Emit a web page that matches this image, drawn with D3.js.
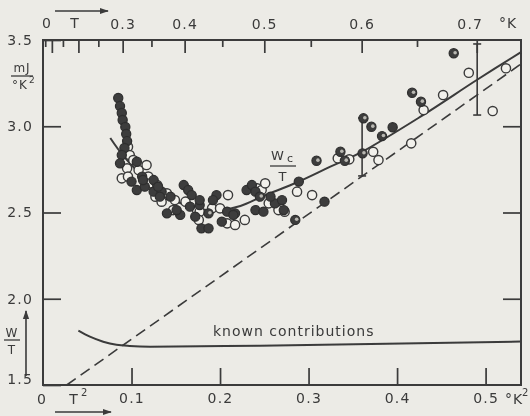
<!DOCTYPE html>
<html>
<head>
<meta charset="utf-8">
<script src="https://cdn.jsdelivr.net/npm/d3@7"></script>
<style>
  body { margin: 0; background: #ecebe6; }
  svg text { font-family: "DejaVu Sans", sans-serif; fill: #3a3a3a; }
</style>
</head>
<body>
<div id="chart"></div>
<script>
// tick values
const t2Ticks = [0.1, 0.2, 0.3, 0.4, 0.5];
const tMajor = [0.1, 0.2, 0.3, 0.4, 0.5, 0.6, 0.7];
const tMinor = [0.05, 0.15, 0.25, 0.35, 0.45, 0.55, 0.65];
const wTicks = [1.5, 2.0, 2.5, 3.0, 3.5];
const wRight = [2.0, 2.5, 3.0];

// measured points [T^2, W/T]
const filledPts = [
  [0.085, 3.164], [0.087, 3.117], [0.089, 3.077], [0.090, 3.036], [0.093, 2.996], [0.094, 2.955], [0.095, 2.914],
  [0.092, 2.874], [0.089, 2.833], [0.106, 2.794], [0.087, 2.785], [0.100, 2.679], [0.112, 2.708], [0.106, 2.630],
  [0.115, 2.650], [0.125, 2.621], [0.134, 2.621], [0.132, 2.592], [0.144, 2.592], [0.159, 2.659], [0.164, 2.630],
  [0.168, 2.601], [0.140, 2.495], [0.155, 2.486], [0.172, 2.476], [0.125, 2.688], [0.130, 2.650], [0.196, 2.601],
  [0.151, 2.514], [0.166, 2.534], [0.179, 2.408], [0.187, 2.408], [0.208, 2.505], [0.202, 2.447], [0.217, 2.495],
  [0.230, 2.630], [0.236, 2.659], [0.240, 2.514], [0.177, 2.543], [0.192, 2.572], [0.240, 2.621], [0.249, 2.505],
  [0.262, 2.553], [0.270, 2.572], [0.257, 2.592], [0.289, 2.679], [0.272, 2.514], [0.215, 2.486], [0.318, 2.563],
  [0.395, 2.994], [0.113, 2.688], [0.177, 2.572]
];
const openPts = [
  [0.096, 2.881], [0.098, 2.833], [0.102, 2.804], [0.095, 2.756], [0.089, 2.698], [0.096, 2.708], [0.108, 2.746],
  [0.117, 2.775], [0.119, 2.708], [0.121, 2.669], [0.129, 2.659], [0.138, 2.601], [0.149, 2.572], [0.161, 2.563],
  [0.147, 2.514], [0.174, 2.514], [0.127, 2.592], [0.134, 2.563], [0.177, 2.505], [0.176, 2.457], [0.191, 2.524],
  [0.200, 2.524], [0.208, 2.437], [0.217, 2.428], [0.228, 2.457], [0.242, 2.640], [0.209, 2.601], [0.247, 2.630],
  [0.251, 2.669], [0.255, 2.553], [0.266, 2.514], [0.273, 2.505], [0.287, 2.621], [0.304, 2.601], [0.333, 2.814],
  [0.346, 2.808], [0.373, 2.852], [0.379, 2.804], [0.416, 2.901], [0.430, 3.094], [0.452, 3.181], [0.481, 3.310],
  [0.523, 3.336], [0.508, 3.088], [0.140, 2.611]
];
const halfPts = [
  [0.187, 2.495], [0.245, 2.592], [0.285, 2.457], [0.309, 2.800], [0.336, 2.852], [0.341, 2.800], [0.361, 2.843],
  [0.362, 3.046], [0.371, 2.997], [0.383, 2.943], [0.417, 3.194], [0.427, 3.142], [0.464, 3.423]
];
// [T^2, low, high]
const errorBars = [[0.3605, 2.712, 3.048], [0.4905, 3.065, 3.477]];

// W_c/T fitted curve
const wcCurve = [
  [0.076, 2.932], [0.090, 2.833], [0.110, 2.723], [0.132, 2.625], [0.155, 2.555], [0.177, 2.520], [0.200, 2.514],
  [0.223, 2.538], [0.249, 2.596], [0.288, 2.677], [0.324, 2.764], [0.358, 2.845], [0.426, 3.054], [0.490, 3.268],
  [0.540, 3.430]
];
const knownCurve = [
  [0.040, 1.815], [0.053, 1.780], [0.068, 1.751], [0.083, 1.733], [0.098, 1.726], [0.121, 1.722], [0.245, 1.728],
  [0.540, 1.752]
];
const dashedLine = [[0.0268, 1.5], [0.540, 3.361]];

const W = 530, H = 416;
const ink = "#3a3a3a";
const pLeft = 43, pRight = 521, pTop = 40, pBottom = 385;

const svg = d3.select("#chart").append("svg")
  .attr("width", W).attr("height", H)
  .style("background", "#ecebe6");

const defs = svg.append("defs");
defs.append("filter").attr("id", "scan")
  .append("feGaussianBlur").attr("stdDeviation", 0.35);
defs.append("marker").attr("id", "arr")
  .attr("viewBox", "0 0 10 10").attr("refX", 9).attr("refY", 5)
  .attr("markerWidth", 9).attr("markerHeight", 9).attr("markerUnits", "userSpaceOnUse").attr("orient", "auto")
  .append("path").attr("d", "M0,1.5 L10,5 L0,8.5 Z").attr("fill", ink);

const g = svg.append("g").attr("filter", "url(#scan)");

const x = d3.scaleLinear().domain([0, 0.54]).range([pLeft, pRight]);
const tx = d3.scalePow().exponent(2).domain([0, Math.sqrt(0.54)]).range([pLeft, pRight]);
const y = d3.scaleLinear().domain([1.5, 3.5]).range([pBottom, pTop]);
const fmt = d3.format(".1f");

function styleAxis(sel) {
  sel.select(".domain").remove();
  sel.selectAll("line").attr("stroke", ink).attr("stroke-width", 1.7);
  sel.selectAll("text").attr("font-size", 14).attr("letter-spacing", 1.2)
    .attr("fill", ink).attr("font-family", "DejaVu Sans");
}

// bottom T^2 axis
g.append("g").attr("transform", `translate(0,${pBottom})`)
  .call(d3.axisBottom(x).tickValues(t2Ticks).tickSize(-17).tickPadding(8).tickFormat(fmt))
  .call(styleAxis);

// top T axis
g.append("g").attr("transform", `translate(0,${pTop})`)
  .call(d3.axisTop(tx).tickValues(tMajor).tickSize(-13).tickPadding(11)
    .tickFormat(d => d >= 0.3 ? fmt(d) : ""))
  .call(styleAxis)
  .selectAll("text").attr("dx", d => d === 0.7 ? -7 : 0);
g.append("g").attr("transform", `translate(0,${pTop})`)
  .call(d3.axisTop(tx).tickValues(tMinor).tickSize(-7).tickFormat(""))
  .call(styleAxis);

// left and right W/T axes
g.append("g").attr("transform", `translate(${pLeft},0)`)
  .call(d3.axisLeft(y).tickValues(wTicks).tickSize(-18).tickPadding(10).tickFormat(fmt))
  .call(styleAxis)
  .selectAll("text").attr("dy", d => d === 1.5 ? "-0.1em" : "0.32em");
g.append("g").attr("transform", `translate(${pRight},0)`)
  .call(d3.axisRight(y).tickValues(wRight).tickSize(-18).tickFormat(""))
  .call(styleAxis);

// frame
g.append("rect").attr("x", pLeft).attr("y", pTop)
  .attr("width", pRight - pLeft).attr("height", pBottom - pTop)
  .attr("fill", "none").attr("stroke", ink).attr("stroke-width", 2);

// curves
const line = d3.line().x(d => x(d[0])).y(d => y(d[1]));
g.append("path").datum(dashedLine).attr("d", line)
  .attr("fill", "none").attr("stroke", ink).attr("stroke-width", 1.6)
  .attr("stroke-dasharray", "11,6");
g.append("path").datum(knownCurve).attr("d", line.curve(d3.curveMonotoneX))
  .attr("fill", "none").attr("stroke", ink).attr("stroke-width", 2);
g.append("path").datum(wcCurve).attr("d", line.curve(d3.curveCatmullRom))
  .attr("fill", "none").attr("stroke", ink).attr("stroke-width", 2);

// error bars
const eb = g.selectAll(".eb").data(errorBars).enter().append("g").attr("class", "eb");
eb.append("line").attr("x1", d => x(d[0])).attr("x2", d => x(d[0]))
  .attr("y1", d => y(d[1])).attr("y2", d => y(d[2]))
  .attr("stroke", ink).attr("stroke-width", 1.6);
eb.append("line").attr("x1", d => x(d[0]) - 4).attr("x2", d => x(d[0]) + 4)
  .attr("y1", d => y(d[1])).attr("y2", d => y(d[1])).attr("stroke", ink).attr("stroke-width", 1.6);
eb.append("line").attr("x1", d => x(d[0]) - 4).attr("x2", d => x(d[0]) + 4)
  .attr("y1", d => y(d[2])).attr("y2", d => y(d[2])).attr("stroke", ink).attr("stroke-width", 1.6);

// points
const r = 4.6;
g.selectAll(".op").data(openPts).enter().append("circle").attr("class", "op")
  .attr("cx", d => x(d[0])).attr("cy", d => y(d[1])).attr("r", r)
  .attr("fill", "#f2f1ec").attr("stroke", ink).attr("stroke-width", 1.4);
g.selectAll(".fp").data(filledPts).enter().append("circle").attr("class", "fp")
  .attr("cx", d => x(d[0])).attr("cy", d => y(d[1])).attr("r", r)
  .attr("fill", "#3c3c3c").attr("stroke", "#2e2e2e").attr("stroke-width", 1.2);
const hp = g.selectAll(".hp").data(halfPts).enter().append("g").attr("class", "hp")
  .attr("transform", d => `translate(${x(d[0])},${y(d[1])})`);
hp.append("circle").attr("r", r).attr("fill", "#3c3c3c").attr("stroke", "#2e2e2e").attr("stroke-width", 1.2);
hp.append("circle").attr("cx", 1.4).attr("cy", -0.6).attr("r", 1.8).attr("fill", "#b9b8b2");

// text labels
const txt = (xp, yp, s, size, anchor) => g.append("text").attr("x", xp).attr("y", yp)
  .attr("font-size", size).attr("text-anchor", anchor || "middle").attr("letter-spacing", 1).text(s);

// top axis name
txt(47, 28, "0", 14); txt(75, 28, "T", 14); txt(508, 28, "°K", 14);
g.append("line").attr("x1", 55).attr("x2", 108).attr("y1", 11).attr("y2", 11)
  .attr("stroke", ink).attr("stroke-width", 1.6).attr("marker-end", "url(#arr)");

// bottom axis name
txt(42, 404, "0", 14); txt(74, 404, "T", 14);
g.append("text").attr("x", 81).attr("y", 396).attr("font-size", 10).text("2");
txt(514, 404, "°K", 14);
g.append("text").attr("x", 522).attr("y", 396).attr("font-size", 10).text("2");
g.append("line").attr("x1", 55).attr("x2", 111).attr("y1", 412).attr("y2", 412)
  .attr("stroke", ink).attr("stroke-width", 1.6).attr("marker-end", "url(#arr)");

// unit mJ / °K²
txt(22, 72, "mJ", 12);
g.append("line").attr("x1", 11).attr("x2", 33).attr("y1", 76).attr("y2", 76).attr("stroke", ink).attr("stroke-width", 1.3);
txt(20, 89, "°K", 12);
g.append("text").attr("x", 29).attr("y", 83).attr("font-size", 9).text("2");

// W/T with arrow
txt(12, 337, "W", 12);
g.append("line").attr("x1", 4).attr("x2", 20).attr("y1", 340).attr("y2", 340).attr("stroke", ink).attr("stroke-width", 1.3);
txt(12, 354, "T", 12);
g.append("line").attr("x1", 26).attr("x2", 26).attr("y1", 376).attr("y2", 311)
  .attr("stroke", ink).attr("stroke-width", 1.6).attr("marker-end", "url(#arr)");

// Wc/T label
txt(278, 160, "W", 13);
g.append("text").attr("x", 287).attr("y", 162).attr("font-size", 11).text("c");
g.append("line").attr("x1", 270).attr("x2", 296).attr("y1", 166).attr("y2", 166).attr("stroke", ink).attr("stroke-width", 1.3);
txt(283, 181, "T", 13);

// known contributions
txt(213, 336, "known contributions", 14, "start");
</script>
</body>
</html>
